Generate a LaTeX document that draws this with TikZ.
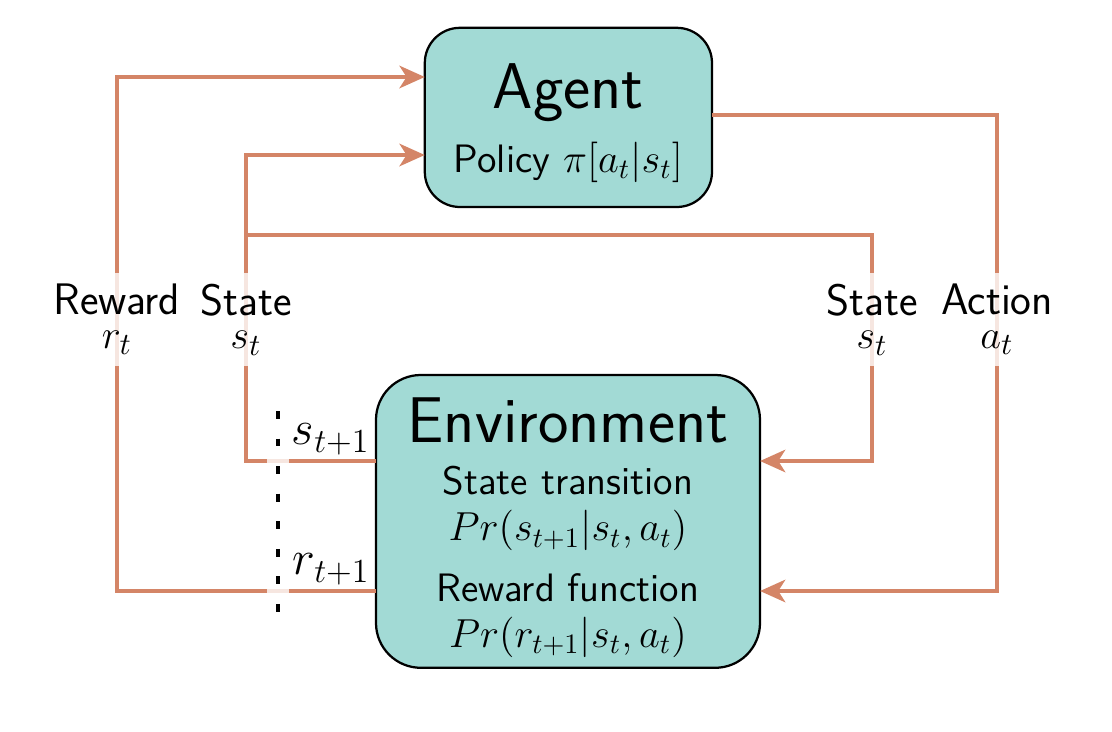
\documentclass[tikz,border=0pt]{standalone}
\usepackage{amsmath}
\usepackage{tikz}
\usetikzlibrary{ arrows.meta, % For the Stealth tips
                 positioning, % For easy node-relative placements
               }
\definecolor{flowcol}{RGB}{212,133,103}
\definecolor{boxcol}{RGB}{162,218,213}
\newcommand{\bigtitle}{\fontsize{23}{27}\selectfont}
\newcommand{\boxtext}{\fontsize{14.1}{16.5}\selectfont}
\newcommand{\lbltext}{\fontsize{15.7}{18}\selectfont}

\begin{document}
\begin{tikzpicture}[font=\sffamily,
    box/.style={draw, line width=0.8pt, fill=boxcol, align=center, font=\sffamily\boxtext},
    flow/.style={draw=flowcol, line width=1.3pt, -{Stealth[length=9pt,width=8pt,inset=2.5pt]}},
    lbl/.style={fill=white, fill opacity=0.8, text opacity=1, align=center,
                font=\sffamily\lbltext, inner sep=4pt},
    cut/.style={line width=1.4pt, dash pattern=on 2.8pt off 7pt,
                preaction={draw=white, opacity=0.8, line width=8pt, solid}}]
  \useasboundingbox (0,0) rectangle (13.9,9.1375);

  \node[box, minimum width=3.59cm, minimum height=2.24cm, rounded corners=0.44cm]
    (agent) at (7.105,7.67) {\rule{0pt}{20pt}{\bigtitle Agent}\\[6.5pt]Policy $\pi[a_t|s_t]$};
  \node[box, minimum width=4.8cm, minimum height=3.66cm, rounded corners=0.56cm]
    (env) at (7.1,2.62)
    {\rule{0pt}{20.5pt}{\bigtitle Environment}\\[2pt] State transition\\ $Pr(s_{t+1}|s_t,a_t)$\\[5pt]
     Reward function\\ $Pr(r_{t+1}|s_t,a_t)$};

  % ports on the boxes
  \coordinate (agent_r) at (5.31,8.175);
  \coordinate (agent_s) at (5.31,7.2);
  \coordinate (agent_a) at (8.9,7.7);
  \coordinate (env_s) at (4.7,3.375);
  \coordinate (env_r) at (4.7,1.75);
  \coordinate (env_s_in) at (9.5,3.375);
  \coordinate (env_a) at (9.5,1.75);

  % lanes
  \coordinate (reward_lane) at (1.4625,5);
  \coordinate (state_lane) at (3.075,5);
  \coordinate (state_lane_r) at (10.9,5);
  \coordinate (action_lane) at (12.4625,5);
  \coordinate (split) at (3.075,6.2);

  \draw[flow] (env_r) -| (reward_lane) |- (agent_r);
  \draw[flow] (env_s) -| (state_lane) |- (agent_s);
  \draw[flow] (split) -| (state_lane_r) |- (env_s_in);
  \draw[flow] (agent_a) -| (action_lane) |- (env_a);

  \coordinate (cut_top) at (3.475,4.0);
  \coordinate (cut_bot) at (3.475,1.47);
  \draw[cut] (cut_top) -- (cut_bot);

  \node[lbl] (reward_lbl) at (1.4625,5.144) {Reward\\[-6pt]$r_t$};
  \node[lbl] (state_lbl) at (3.075,5.144) {State\\[-6pt]$s_t$};
  \node[lbl] (state_lbl_r) at (10.9,5.144) {State\\[-6pt]$s_t$};
  \node[lbl] (action_lbl) at (12.4625,5.144) {Action\\[-6pt]$a_t$};

  \node[above left, font=\fontsize{16.6}{20}\selectfont, inner sep=2pt] (s_next) at (env_s) {$s_{t+1}$};
  \node[above left, font=\fontsize{16.6}{20}\selectfont, inner sep=2pt] (r_next) at (env_r) {$r_{t+1}$};
\end{tikzpicture}
\end{document}
